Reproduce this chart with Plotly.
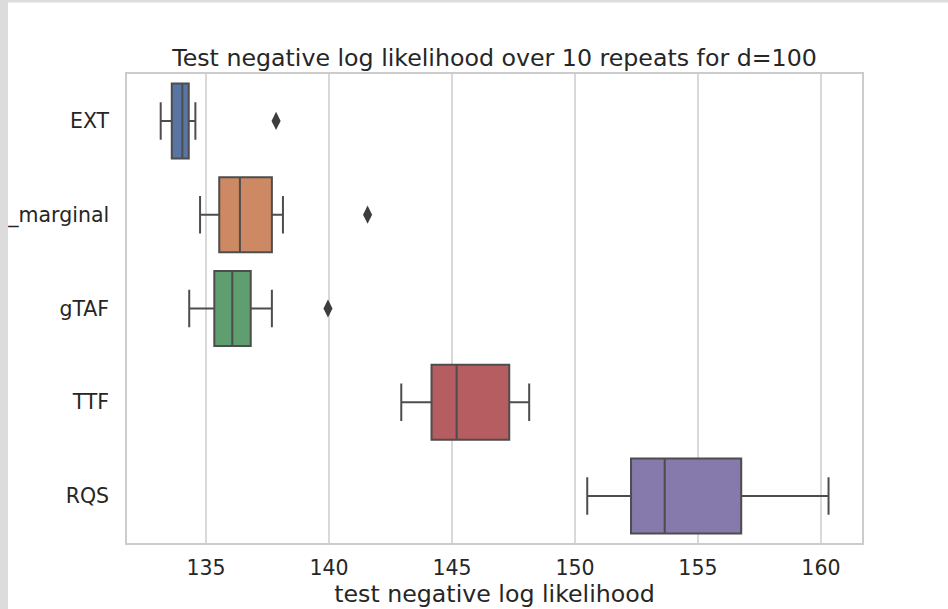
import plotly.graph_objects as go

categories = ["EXT", "_marginal", "gTAF", "TTF", "RQS"]
lower_whisker = [133.16, 134.76, 134.32, 142.94, 150.50]
q1_values = [133.61, 135.54, 135.34, 144.17, 152.28]
median_values = [134.04, 136.38, 136.07, 145.19, 153.65]
q3_values = [134.30, 137.68, 136.82, 147.33, 156.76]
upper_whisker = [134.57, 138.13, 137.68, 148.14, 160.31]
outlier_cats = ["EXT", "_marginal", "gTAF"]
outlier_values = [137.85, 141.57, 139.96]
box_colors = ["#5975a4", "#cc8963", "#5f9e6e", "#b55d60", "#857aab"]
x_ticks = [135, 140, 145, 150, 155, 160]

W, H = 948, 609
ML, MR, MT, MB = 127, 86, 74, 66
PW, PH = W - ML - MR, H - MT - MB
FONT = "DejaVu Sans"
TXT = "#262626"
EDGE = "#4d4d4d"

fig = go.Figure()
for i, c in enumerate(categories):
    fig.add_trace(go.Box(
        y=[c], q1=[q1_values[i]], median=[median_values[i]], q3=[q3_values[i]],
        lowerfence=[lower_whisker[i]], upperfence=[upper_whisker[i]],
        orientation="h", fillcolor=box_colors[i],
        line=dict(color=EDGE, width=2), width=0.8, whiskerwidth=0.5,
        boxpoints=False, showlegend=False, hoverinfo="skip"))

fig.add_trace(go.Scatter(
    x=outlier_values, y=outlier_cats, mode="markers",
    marker=dict(symbol="diamond-tall", size=13, color="#3d3d3d"),
    showlegend=False, hoverinfo="skip"))

def px2paper_x(px):
    return (px - ML) / PW

def px2paper_y(py):
    return (H - MB - py) / PH

shapes = [
    dict(type="rect", xref="paper", yref="paper", layer="above",
         x0=px2paper_x(0), x1=px2paper_x(8), y0=px2paper_y(H), y1=px2paper_y(0),
         fillcolor="#dcdcdc", line=dict(width=0)),
    dict(type="rect", xref="paper", yref="paper", layer="above",
         x0=px2paper_x(0), x1=px2paper_x(W), y0=px2paper_y(2.5), y1=px2paper_y(0),
         fillcolor="#dcdcdc", line=dict(width=0)),
]

fig.update_layout(
    width=W, height=H,
    margin=dict(l=ML, r=MR, t=MT, b=MB),
    paper_bgcolor="white", plot_bgcolor="white",
    font=dict(family=FONT, color=TXT, size=20),
    title=dict(text="Test negative log likelihood over 10 repeats for d=100",
               x=(ML + PW / 2) / W, xanchor="center",
               y=1 - 58 / H, yanchor="middle", yref="container",
               font=dict(family=FONT, size=23.7, color=TXT)),
    shapes=shapes,
    xaxis=dict(range=[131.79, 161.67], tickvals=x_ticks, automargin=False,
               showgrid=True, gridcolor="#d9d9d9", gridwidth=1.5,
               zeroline=False, showline=True, linecolor="#cccccc", linewidth=1.5,
               mirror=True, ticks="", ticklabelstandoff=6,
               tickfont=dict(size=20.5, color=TXT),
               title=dict(text="test negative log likelihood", standoff=2,
                          font=dict(size=23.7, color=TXT))),
    yaxis=dict(type="category", categoryorder="array", categoryarray=categories,
               range=[4.5, -0.5], showgrid=False, zeroline=False, automargin=False,
               showline=True, linecolor="#cccccc", linewidth=1.5, mirror=True,
               ticks="", ticklabelstandoff=12,
               tickfont=dict(size=20.5, color=TXT)),
)

fig.write_html("out.html")
